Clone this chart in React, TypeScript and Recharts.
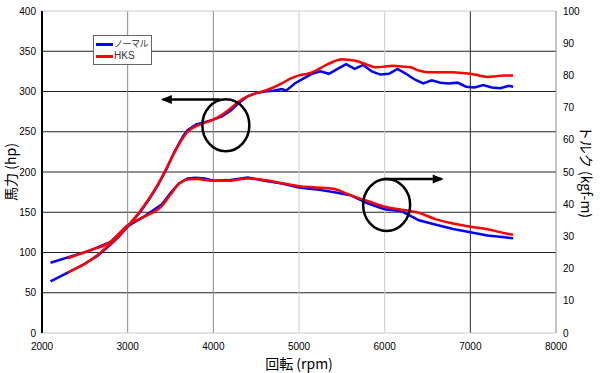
import React from 'react'
import { LineChart, Line, XAxis, YAxis, CartesianGrid, Legend, ReferenceDot, ReferenceLine, Label } from 'recharts'

// horsepower (left axis)
const rpmHpNormal = [2100, 2300, 2500, 2650, 2800, 2900, 3000, 3150, 3250, 3350, 3450, 3550, 3650, 3700, 3800, 3900, 4000, 4100, 4200, 4300, 4400, 4500, 4600, 4700, 4800, 4850, 4950, 5050, 5150, 5250, 5350, 5450, 5550, 5650, 5750, 5850, 5950, 6050, 6150, 6250, 6350, 6450, 6550, 6650, 6750, 6850, 6950, 7050, 7150, 7250, 7350, 7450, 7500]
const hpNormal = [64, 75, 86, 96, 110, 120, 132, 151, 166, 183, 203, 226, 245, 252, 259, 262, 265, 269, 276, 286, 294, 298, 300, 301, 303, 301, 310, 316, 322, 325, 322, 328, 334, 328, 333, 325, 321, 322, 328, 322, 315, 310, 314, 311, 310, 311, 306, 305, 308, 305, 304, 307, 306]

const rpmHpHks = [2300, 2500, 2650, 2800, 2900, 3000, 3150, 3250, 3350, 3450, 3550, 3650, 3700, 3800, 3900, 4000, 4100, 4200, 4300, 4400, 4500, 4600, 4700, 4800, 4900, 5000, 5100, 5200, 5300, 5400, 5500, 5600, 5700, 5800, 5900, 6000, 6100, 6200, 6300, 6400, 6500, 6600, 6700, 6800, 6900, 7000, 7100, 7200, 7300, 7400, 7500]
const hpHks = [75, 86, 97, 111, 121, 133, 152, 167, 184, 204, 225, 243, 250, 257, 261, 265, 271, 279, 288, 294, 298, 301, 305, 310, 316, 320, 322, 326, 332, 337, 340, 339, 337, 333, 330, 331, 332, 331, 330, 326, 324, 324, 324, 324, 323, 322, 320, 318, 319, 320, 320]

// torque (right axis, kgf-m)
const rpmTqNormal = [2100, 2300, 2550, 2800, 3000, 3200, 3400, 3500, 3600, 3700, 3800, 3900, 4000, 4200, 4400, 4600, 4800, 5000, 5200, 5400, 5600, 5800, 6000, 6200, 6400, 6600, 6800, 7000, 7200, 7400, 7500]
const tqNormal = [21.8, 23.5, 25.5, 28.3, 33.2, 36.3, 40, 43.5, 46.5, 48, 48.2, 48, 47.3, 47.5, 48.3, 47.3, 46.4, 45.2, 44.6, 43.8, 42.8, 40.3, 38.4, 37.8, 35, 33.6, 32.3, 31.3, 30.3, 29.7, 29.4]

const rpmTqHks = [2300, 2550, 2800, 3000, 3200, 3400, 3500, 3600, 3700, 3800, 4000, 4200, 4400, 4600, 4800, 5000, 5200, 5400, 5600, 5800, 6000, 6200, 6400, 6600, 6800, 7000, 7200, 7400, 7500]
const tqHks = [23.2, 25.6, 28.3, 33.5, 36.2, 39.5, 43, 46.3, 47.7, 47.8, 47.3, 47.3, 48, 47.5, 46.5, 45.6, 45.2, 44.8, 42.8, 41, 39.2, 38.3, 37.3, 35.3, 34, 33, 32.2, 31, 30.5]

const rpmTicks = [2000, 3000, 4000, 5000, 6000, 7000, 8000]
const hpTicks = [0, 50, 100, 150, 200, 250, 300, 350, 400]
const tqTicks = [0, 10, 20, 30, 40, 50, 60, 70, 80, 90, 100]

// annotation marks (data space)
const hpCircle = { rpm: 4146, hp: 258 }
const hpArrow = { from: 4076, to: 3410, hp: 290 }
const tqCircle = { rpm: 6023, tq: 39.75 }
const tqArrow = { from: 5984, to: 6666, tq: 47.8 }

const zip = (xs: number[], ys: number[], key: string) => xs.map((x, i) => ({ rpm: x, [key]: ys[i] }))

const tickStyle = { fontSize: 10, fill: '#000', fontFamily: 'Liberation Sans, Arial, sans-serif' }
const labelStyle = { fontSize: 14, fill: '#000', fontFamily: 'Noto Sans CJK JP, sans-serif', textAnchor: 'middle' as const }

const Ellipse = (p: any) => <ellipse cx={p.cx} cy={p.cy} rx={23.5} ry={26} fill="none" stroke="#000" strokeWidth={2.5} />
const HeadLeft = (p: any) => <polygon points={`${p.cx - 2},${p.cy} ${p.cx + 9},${p.cy - 4.5} ${p.cx + 9},${p.cy + 4.5}`} fill="#000" />
const HeadRight = (p: any) => <polygon points={`${p.cx + 2},${p.cy} ${p.cx - 9},${p.cy - 4.5} ${p.cx - 9},${p.cy + 4.5}`} fill="#000" />

const LegendBox = () => (
  <div style={{ border: '1px solid #666', background: '#fff', padding: '2px 2px', width: 53, fontSize: 10, lineHeight: '12px', color: '#333' }}>
    {[{ c: '#0000ff', t: 'ノーマル', f: 'Noto Sans CJK JP' }, { c: '#ff0000', t: 'HKS', f: 'Liberation Sans' }].map((r) => (
      <div key={r.t} style={{ display: 'flex', alignItems: 'center', height: 12 }}>
        <span style={{ display: 'inline-block', width: 17, height: 3, background: r.c, marginRight: 1 }} />
        <span style={{ fontFamily: r.f, fontSize: r.f === 'Noto Sans CJK JP' ? 9 : 10, letterSpacing: r.f === 'Noto Sans CJK JP' ? -0.5 : 0 }}>{r.t}</span>
      </div>
    ))}
  </div>
)

export default function App() {
  return (
    <div style={{ position: 'absolute', left: 0, top: 0, width: 600, height: 373, background: '#fff' }}>
      <LineChart width={600} height={373} margin={{ top: 11, right: 0, bottom: 0, left: 0 }}>
        <CartesianGrid yAxisId="hp" vertical={false} horizontalValues={[50, 100, 150, 200, 250, 300, 350]} stroke="#222" />
        <CartesianGrid yAxisId="hp" horizontal={false} verticalValues={[3000, 4000]} stroke="#888" />
        <CartesianGrid yAxisId="hp" horizontal={false} verticalValues={[5000, 6000]} stroke="#ccc" />
        <CartesianGrid yAxisId="hp" horizontal={false} verticalValues={[7000]} stroke="#222" />
        <XAxis dataKey="rpm" type="number" domain={[2000, 8000]} ticks={rpmTicks} height={40} tickLine={false} tickSize={0} tickMargin={10} tick={tickStyle} axisLine={{ stroke: '#ccc' }} allowDataOverflow>
          <Label value="回転 (rpm)" position="insideBottom" offset={4} style={labelStyle} />
        </XAxis>
        <YAxis yAxisId="hp" orientation="left" domain={[0, 400]} ticks={hpTicks} width={42} tickLine={false} tickSize={0} tickMargin={6} tick={tickStyle} axisLine={{ stroke: '#000', strokeWidth: 2 }}>
          <Label value="馬力 (hp)" angle={-90} position="insideLeft" offset={11} style={labelStyle} />
        </YAxis>
        <YAxis yAxisId="tq" orientation="right" domain={[0, 100]} ticks={tqTicks} width={44} tickLine={false} tickSize={0} tickMargin={7} tick={{ ...tickStyle, textAnchor: 'start' }} axisLine={{ stroke: '#888' }}>
          <Label value="トルク (kgf-m)" angle={90} position="insideRight" offset={14} style={labelStyle} />
        </YAxis>
        <ReferenceLine yAxisId="hp" y={400} stroke="#ccc" />
        <Legend layout="vertical" align="center" verticalAlign="middle" content={<LegendBox />} wrapperStyle={{ left: 93, top: 35, width: 'auto' }} />
        <Line yAxisId="hp" data={zip(rpmHpNormal, hpNormal, 'hp')} dataKey="hp" type="linear" stroke="#0000ff" strokeWidth={2.5} dot={false} isAnimationActive={false} />
        <Line yAxisId="tq" data={zip(rpmTqNormal, tqNormal, 'tq')} dataKey="tq" type="linear" stroke="#0000ff" strokeWidth={2.5} dot={false} isAnimationActive={false} />
        <Line yAxisId="hp" data={zip(rpmHpHks, hpHks, 'hp')} dataKey="hp" type="monotone" stroke="#ff0000" strokeWidth={2.5} dot={false} isAnimationActive={false} />
        <Line yAxisId="tq" data={zip(rpmTqHks, tqHks, 'tq')} dataKey="tq" type="monotone" stroke="#ff0000" strokeWidth={2.5} dot={false} isAnimationActive={false} />
        <ReferenceDot yAxisId="hp" x={hpCircle.rpm} y={hpCircle.hp} shape={Ellipse} />
        <ReferenceLine yAxisId="hp" segment={[{ x: hpArrow.from, y: hpArrow.hp }, { x: hpArrow.to, y: hpArrow.hp }]} stroke="#000" strokeWidth={2.5} />
        <ReferenceDot yAxisId="hp" x={hpArrow.to} y={hpArrow.hp} shape={HeadLeft} />
        <ReferenceDot yAxisId="tq" x={tqCircle.rpm} y={tqCircle.tq} shape={Ellipse} />
        <ReferenceLine yAxisId="tq" segment={[{ x: tqArrow.from, y: tqArrow.tq }, { x: tqArrow.to, y: tqArrow.tq }]} stroke="#000" strokeWidth={2.5} />
        <ReferenceDot yAxisId="tq" x={tqArrow.to} y={tqArrow.tq} shape={HeadRight} />
      </LineChart>
    </div>
  )
}
